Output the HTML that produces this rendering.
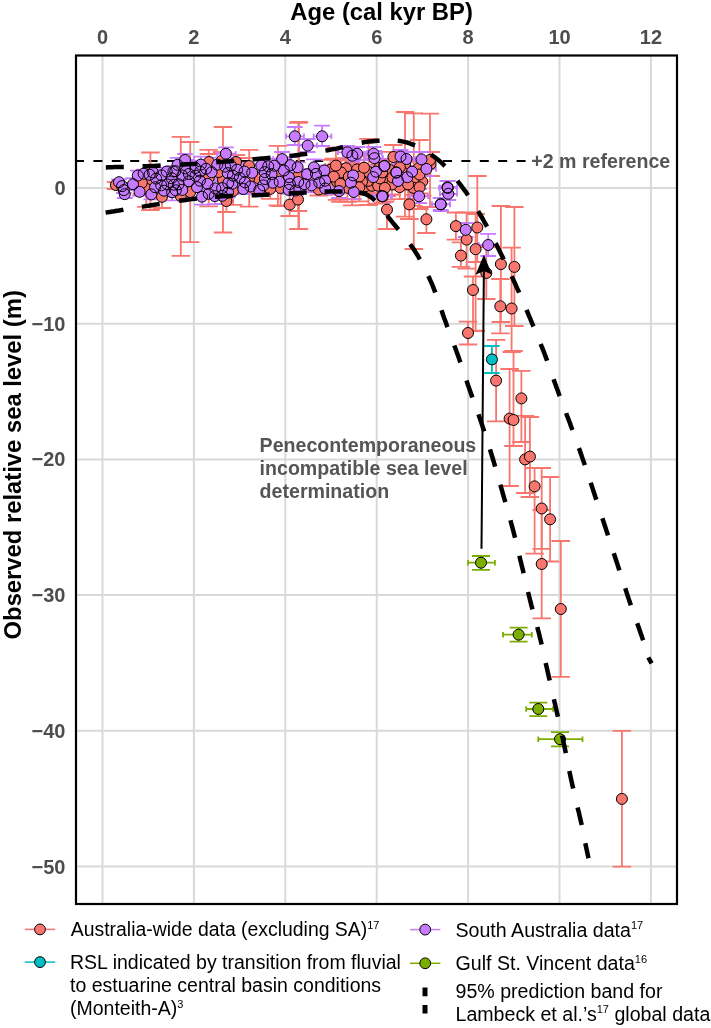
<!DOCTYPE html>
<html><head><meta charset="utf-8"><style>
html,body{margin:0;padding:0;background:#fff;}
svg{display:block;will-change:transform;}
text{font-family:"Liberation Sans",sans-serif;}
</style></head><body>
<svg width="711" height="1028" viewBox="0 0 711 1028">
<rect x="0" y="0" width="711" height="1028" fill="#fff"/>
<g stroke="#d9d9d9" stroke-width="2"><line x1="102.5" y1="56" x2="102.5" y2="904"/><line x1="193.9" y1="56" x2="193.9" y2="904"/><line x1="285.3" y1="56" x2="285.3" y2="904"/><line x1="376.7" y1="56" x2="376.7" y2="904"/><line x1="468.1" y1="56" x2="468.1" y2="904"/><line x1="559.5" y1="56" x2="559.5" y2="904"/><line x1="650.9" y1="56" x2="650.9" y2="904"/><line x1="76" y1="188.0" x2="677" y2="188.0"/><line x1="76" y1="323.7" x2="677" y2="323.7"/><line x1="76" y1="459.4" x2="677" y2="459.4"/><line x1="76" y1="595.1" x2="677" y2="595.1"/><line x1="76" y1="730.8" x2="677" y2="730.8"/><line x1="76" y1="866.5" x2="677" y2="866.5"/></g>
<line x1="75" y1="161.1" x2="526" y2="161.1" stroke="#000" stroke-width="2" stroke-dasharray="9 9.4"/>
<path d="M446.6 212.5H465.1M455.9 212.5V239.7M446.6 239.7H465.1" stroke="#F8766D" stroke-width="1.8" fill="none"/>
<path d="M468.1 176.0H486.6M477.3 176.0V262.0M468.1 262.0H486.6" stroke="#F8766D" stroke-width="1.8" fill="none"/>
<path d="M457.4 212.5H475.9M466.6 212.5V268.6M457.4 268.6H475.9" stroke="#F8766D" stroke-width="1.8" fill="none"/>
<path d="M466.4 214.0H484.9M475.6 214.0V331.0M466.4 331.0H484.9" stroke="#F8766D" stroke-width="1.8" fill="none"/>
<path d="M451.6 242.3H470.1M460.9 242.3V266.8M451.6 266.8H470.1" stroke="#F8766D" stroke-width="1.8" fill="none"/>
<path d="M491.6 206.0H510.1M500.9 206.0V322.0M491.6 322.0H510.1" stroke="#F8766D" stroke-width="1.8" fill="none"/>
<path d="M505.1 207.0H523.6M514.4 207.0V326.0M505.1 326.0H523.6" stroke="#F8766D" stroke-width="1.8" fill="none"/>
<path d="M477.1 247.0H495.6M486.3 247.0V299.0M477.1 299.0H495.6" stroke="#F8766D" stroke-width="1.8" fill="none"/>
<path d="M463.8 276.5H482.2M473.0 276.5V330.7M463.8 330.7H482.2" stroke="#F8766D" stroke-width="1.8" fill="none"/>
<path d="M491.1 279.0H509.6M500.3 279.0V333.4M491.1 333.4H509.6" stroke="#F8766D" stroke-width="1.8" fill="none"/>
<path d="M502.4 247.6H520.9M511.6 247.6V352.0M502.4 352.0H520.9" stroke="#F8766D" stroke-width="1.8" fill="none"/>
<path d="M458.8 321.7H477.2M468.0 321.7V344.5M458.8 344.5H477.2" stroke="#F8766D" stroke-width="1.8" fill="none"/>
<path d="M486.9 339.8H505.4M496.1 339.8V421.4M486.9 421.4H505.4" stroke="#F8766D" stroke-width="1.8" fill="none"/>
<path d="M512.1 370.8H530.6M521.4 370.8V442.0M512.1 442.0H530.6" stroke="#F8766D" stroke-width="1.8" fill="none"/>
<path d="M500.4 369.0H518.9M509.6 369.0V486.0M500.4 486.0H518.9" stroke="#F8766D" stroke-width="1.8" fill="none"/>
<path d="M504.2 351.0H522.8M513.5 351.0V446.0M504.2 446.0H522.8" stroke="#F8766D" stroke-width="1.8" fill="none"/>
<path d="M515.9 415.8H534.4M525.1 415.8V493.0M515.9 493.0H534.4" stroke="#F8766D" stroke-width="1.8" fill="none"/>
<path d="M520.6 417.0H539.1M529.9 417.0V497.0M520.6 497.0H539.1" stroke="#F8766D" stroke-width="1.8" fill="none"/>
<path d="M525.4 468.0H543.9M534.6 468.0V553.6M525.4 553.6H543.9" stroke="#F8766D" stroke-width="1.8" fill="none"/>
<path d="M532.5 468.0H551.0M541.7 468.0V548.8M532.5 548.8H551.0" stroke="#F8766D" stroke-width="1.8" fill="none"/>
<path d="M540.9 477.0H559.4M550.1 477.0V561.5M540.9 561.5H559.4" stroke="#F8766D" stroke-width="1.8" fill="none"/>
<path d="M532.5 510.0H551.0M541.7 510.0V618.3M532.5 618.3H551.0" stroke="#F8766D" stroke-width="1.8" fill="none"/>
<path d="M551.5 541.0H570.0M560.8 541.0V676.8M551.5 676.8H570.0" stroke="#F8766D" stroke-width="1.8" fill="none"/>
<path d="M612.6 730.8H631.1M621.9 730.8V866.7M612.6 866.7H631.1" stroke="#F8766D" stroke-width="1.8" fill="none"/>
<path d="M377.8 196.0H396.2M387.0 196.0V229.0M377.8 229.0H396.2" stroke="#F8766D" stroke-width="1.8" fill="none"/>
<path d="M400.1 190.0H418.6M409.3 190.0V219.0M400.1 219.0H418.6" stroke="#F8766D" stroke-width="1.8" fill="none"/>
<path d="M417.1 207.0H435.6M426.4 207.0V233.0M417.1 233.0H435.6" stroke="#F8766D" stroke-width="1.8" fill="none"/>
<path d="M404.6 113.4H423.1M413.8 113.4V249.0M404.6 249.0H423.1" stroke="#F8766D" stroke-width="1.8" fill="none"/>
<path d="M395.8 112.0H414.2M405.0 112.0V216.7M395.8 216.7H414.2" stroke="#F8766D" stroke-width="1.8" fill="none"/>
<path d="M420.8 113.6H439.2M430.0 113.6V207.0M420.8 207.0H439.2" stroke="#F8766D" stroke-width="1.8" fill="none"/>
<path d="M384.1 145.0H402.6M393.4 145.0V170.0M384.1 170.0H402.6" stroke="#F8766D" stroke-width="1.8" fill="none"/>
<path d="M421.4 152.0H439.9M430.6 152.0V176.0M421.4 176.0H439.9" stroke="#F8766D" stroke-width="1.8" fill="none"/>
<path d="M217.2 190.0H235.7M226.4 190.0V212.0M217.2 212.0H235.7" stroke="#F8766D" stroke-width="1.8" fill="none"/>
<path d="M280.4 192.0H298.9M289.7 192.0V216.0M280.4 216.0H298.9" stroke="#F8766D" stroke-width="1.8" fill="none"/>
<path d="M288.8 187.0H307.2M298.0 187.0V211.0M288.8 211.0H307.2" stroke="#F8766D" stroke-width="1.8" fill="none"/>
<path d="M132.6 172.0H151.1M141.8 172.0V194.0M132.6 194.0H151.1" stroke="#F8766D" stroke-width="1.8" fill="none"/>
<path d="M152.8 186.0H171.2M162.0 186.0V208.0M152.8 208.0H171.2" stroke="#F8766D" stroke-width="1.8" fill="none"/>
<path d="M106.7 182.2H125.2M115.9 182.2V189.0M106.7 189.0H125.2" stroke="#F8766D" stroke-width="1.8" fill="none"/>
<path d="M213.8 127.0H232.2M223.0 127.0V232.5M213.8 232.5H232.2" stroke="#F8766D" stroke-width="1.8" fill="none"/>
<path d="M171.6 136.8H190.1M180.8 136.8V255.9M171.6 255.9H190.1" stroke="#F8766D" stroke-width="1.8" fill="none"/>
<path d="M180.9 142.0H199.4M190.2 142.0V242.2M180.9 242.2H199.4" stroke="#F8766D" stroke-width="1.8" fill="none"/>
<path d="M141.2 152.5H159.7M150.4 152.5V210.0M141.2 210.0H159.7" stroke="#F8766D" stroke-width="1.8" fill="none"/>
<path d="M199.4 149.8H217.9M208.7 149.8V206.3M199.4 206.3H217.9" stroke="#F8766D" stroke-width="1.8" fill="none"/>
<path d="M239.9 149.8H258.4M249.2 149.8V206.7M239.9 206.7H258.4" stroke="#F8766D" stroke-width="1.8" fill="none"/>
<path d="M268.6 145.9H287.1M277.9 145.9V205.5M268.6 205.5H287.1" stroke="#F8766D" stroke-width="1.8" fill="none"/>
<path d="M289.8 122.0H308.2M299.0 122.0V229.0M289.8 229.0H308.2" stroke="#F8766D" stroke-width="1.8" fill="none"/>
<path d="M289.1 122.8H307.6M298.4 122.8V229.1M289.1 229.1H307.6" stroke="#F8766D" stroke-width="1.8" fill="none"/>
<path d="M359.2 138.8H377.8M368.5 138.8V205.0M359.2 205.0H377.8" stroke="#F8766D" stroke-width="1.8" fill="none"/>
<path d="M410.1 140.0H428.6M419.4 140.0V209.0M410.1 209.0H428.6" stroke="#F8766D" stroke-width="1.8" fill="none"/>
<path d="M398.9 170.0H417.4M408.1 170.0V199.0M398.9 199.0H417.4" stroke="#F8766D" stroke-width="1.8" fill="none"/>
<path d="M405.9 168.0H424.4M415.2 168.0V195.0M405.9 195.0H424.4" stroke="#F8766D" stroke-width="1.8" fill="none"/>
<path d="M199.8 154.0H218.2M209.0 154.0V170.0M199.8 170.0H218.2" stroke="#F8766D" stroke-width="1.8" fill="none"/>
<path d="M212.8 152.0H231.2M222.0 152.0V169.0M212.8 169.0H231.2" stroke="#F8766D" stroke-width="1.8" fill="none"/>
<path d="M226.8 155.0H245.2M236.0 155.0V169.0M226.8 169.0H245.2" stroke="#F8766D" stroke-width="1.8" fill="none"/>
<path d="M239.8 158.0H258.2M249.0 158.0V174.0M239.8 174.0H258.2" stroke="#F8766D" stroke-width="1.8" fill="none"/>
<path d="M439.5 181.0H455.2M447.4 181.0V194.0M439.5 194.0H455.2" stroke="#C77CFF" stroke-width="1.8" fill="none"/>
<path d="M440.4 187.0H456.2M448.3 187.0V200.0M440.4 200.0H456.2" stroke="#C77CFF" stroke-width="1.8" fill="none"/>
<path d="M432.8 198.0H448.6M440.7 198.0V210.0M432.8 210.0H448.6" stroke="#C77CFF" stroke-width="1.8" fill="none"/>
<path d="M457.8 223.0H473.6M465.7 223.0V237.0M457.8 237.0H473.6" stroke="#C77CFF" stroke-width="1.8" fill="none"/>
<path d="M480.3 233.9H496.1M488.2 233.9V256.0M480.3 256.0H496.1" stroke="#C77CFF" stroke-width="1.8" fill="none"/>
<path d="M111.2 179.4H126.8M119.0 179.4V185.0M111.2 185.0H126.8" stroke="#C77CFF" stroke-width="1.8" fill="none"/>
<path d="M114.2 183.0H129.9M122.1 183.0V189.0M114.2 189.0H129.9" stroke="#C77CFF" stroke-width="1.8" fill="none"/>
<path d="M116.0 187.0H131.7M123.8 187.0V193.0M116.0 193.0H131.7" stroke="#C77CFF" stroke-width="1.8" fill="none"/>
<path d="M116.9 190.4H132.6M124.7 190.4V198.0M116.9 198.0H132.6" stroke="#C77CFF" stroke-width="1.8" fill="none"/>
<path d="M218.1 147.3H233.8M225.9 147.3V160.0M218.1 160.0H233.8" stroke="#C77CFF" stroke-width="1.8" fill="none"/>
<path d="M286.9 127.0H302.7M294.8 127.0V145.0M286.9 145.0H302.7" stroke="#C77CFF" stroke-width="1.8" fill="none"/>
<path d="M299.8 139.0H315.6M307.7 139.0V152.0M299.8 152.0H315.6" stroke="#C77CFF" stroke-width="1.8" fill="none"/>
<path d="M314.2 125.7H330.0M322.1 125.7V146.0M314.2 146.0H330.0" stroke="#C77CFF" stroke-width="1.8" fill="none"/>
<path d="M274.2 152.0H290.0M282.1 152.0V166.0M274.2 166.0H290.0" stroke="#C77CFF" stroke-width="1.8" fill="none"/>
<path d="M177.2 154.0H192.8M185.0 154.0V166.0M177.2 166.0H192.8" stroke="#C77CFF" stroke-width="1.8" fill="none"/>
<path d="M339.5 146.0H355.2M347.4 146.0V159.0M339.5 159.0H355.2" stroke="#C77CFF" stroke-width="1.8" fill="none"/>
<path d="M344.5 149.0H360.2M352.4 149.0V162.0M344.5 162.0H360.2" stroke="#C77CFF" stroke-width="1.8" fill="none"/>
<path d="M349.3 147.0H365.1M357.2 147.0V160.0M349.3 160.0H365.1" stroke="#C77CFF" stroke-width="1.8" fill="none"/>
<path d="M365.6 147.0H381.4M373.5 147.0V160.0M365.6 160.0H381.4" stroke="#C77CFF" stroke-width="1.8" fill="none"/>
<path d="M366.5 151.0H382.2M374.4 151.0V165.0M366.5 165.0H382.2" stroke="#C77CFF" stroke-width="1.8" fill="none"/>
<path d="M392.6 150.0H408.4M400.5 150.0V163.0M392.6 163.0H408.4" stroke="#C77CFF" stroke-width="1.8" fill="none"/>
<path d="M398.6 152.0H414.4M406.5 152.0V166.0M398.6 166.0H414.4" stroke="#C77CFF" stroke-width="1.8" fill="none"/>
<path d="M376.6 159.0H392.4M384.5 159.0V172.0M376.6 172.0H392.4" stroke="#C77CFF" stroke-width="1.8" fill="none"/>
<path d="M368.1 165.0H383.9M376.0 165.0V178.0M368.1 178.0H383.9" stroke="#C77CFF" stroke-width="1.8" fill="none"/>
<path d="M388.4 166.0H404.2M396.3 166.0V179.0M388.4 179.0H404.2" stroke="#C77CFF" stroke-width="1.8" fill="none"/>
<path d="M390.1 174.0H405.9M398.0 174.0V188.0M390.1 188.0H405.9" stroke="#C77CFF" stroke-width="1.8" fill="none"/>
<path d="M342.9 176.0H358.7M350.8 176.0V189.0M342.9 189.0H358.7" stroke="#C77CFF" stroke-width="1.8" fill="none"/>
<path d="M345.9 185.0H361.7M353.8 185.0V199.0M345.9 199.0H361.7" stroke="#C77CFF" stroke-width="1.8" fill="none"/>
<path d="M331.1 184.0H346.9M339.0 184.0V198.0M331.1 198.0H346.9" stroke="#C77CFF" stroke-width="1.8" fill="none"/>
<path d="M374.1 189.0H389.9M382.0 189.0V203.0M374.1 203.0H389.9" stroke="#C77CFF" stroke-width="1.8" fill="none"/>
<path d="M413.6 152.0H429.4M421.5 152.0V166.0M413.6 166.0H429.4" stroke="#C77CFF" stroke-width="1.8" fill="none"/>
<path d="M418.5 162.0H434.2M426.4 162.0V176.0M418.5 176.0H434.2" stroke="#C77CFF" stroke-width="1.8" fill="none"/>
<path d="M376.3 159.0H392.1M384.2 159.0V173.0M376.3 173.0H392.1" stroke="#C77CFF" stroke-width="1.8" fill="none"/>
<path d="M388.3 166.0H404.1M396.2 166.0V179.0M388.3 179.0H404.1" stroke="#C77CFF" stroke-width="1.8" fill="none"/>
<path d="M374.9 189.0H390.7M382.8 189.0V203.0M374.9 203.0H390.7" stroke="#C77CFF" stroke-width="1.8" fill="none"/>
<path d="M411.2 189.0H427.0M419.1 189.0V203.0M411.2 203.0H427.0" stroke="#C77CFF" stroke-width="1.8" fill="none"/>
<path d="M432.9 198.0H448.7M440.8 198.0V211.0M432.9 211.0H448.7" stroke="#C77CFF" stroke-width="1.8" fill="none"/>
<path d="M439.9 181.0H455.7M447.8 181.0V194.0M439.9 194.0H455.7" stroke="#C77CFF" stroke-width="1.8" fill="none"/>
<path d="M130.0 170.6H145.7M137.8 170.6V180.6M130.0 180.6H145.7" stroke="#C77CFF" stroke-width="1.8" fill="none"/>
<path d="M135.9 169.7H151.6M143.7 169.7V177.7M135.9 177.7H151.6" stroke="#C77CFF" stroke-width="1.8" fill="none"/>
<path d="M125.2 178.2H140.9M133.0 178.2V190.2M125.2 190.2H140.9" stroke="#C77CFF" stroke-width="1.8" fill="none"/>
<path d="M131.8 187.8H147.5M139.6 187.8V195.8M131.8 195.8H147.5" stroke="#C77CFF" stroke-width="1.8" fill="none"/>
<path d="M137.0 170.8H155.5M146.3 170.8V206.8M137.0 206.8H155.5" stroke="#F8766D" stroke-width="1.8" fill="none"/>
<path d="M141.8 167.8H157.5M149.6 167.8V181.8M141.8 181.8H157.5" stroke="#C77CFF" stroke-width="1.8" fill="none"/>
<path d="M158.9 167.6H174.6M166.7 167.6V175.6M158.9 175.6H174.6" stroke="#C77CFF" stroke-width="1.8" fill="none"/>
<path d="M153.7 169.4H169.4M161.5 169.4V181.4M153.7 181.4H169.4" stroke="#C77CFF" stroke-width="1.8" fill="none"/>
<path d="M145.1 165.5H160.8M152.9 165.5V179.5M145.1 179.5H160.8" stroke="#C77CFF" stroke-width="1.8" fill="none"/>
<path d="M153.4 181.3H169.1M161.2 181.3V189.3M153.4 189.3H169.1" stroke="#C77CFF" stroke-width="1.8" fill="none"/>
<path d="M164.2 184.3H179.9M172.1 184.3V200.3M164.2 200.3H179.9" stroke="#C77CFF" stroke-width="1.8" fill="none"/>
<path d="M163.7 171.2H179.4M171.6 171.2V185.2M163.7 185.2H179.4" stroke="#C77CFF" stroke-width="1.8" fill="none"/>
<path d="M159.4 178.4H175.1M167.3 178.4V190.4M159.4 190.4H175.1" stroke="#C77CFF" stroke-width="1.8" fill="none"/>
<path d="M143.5 189.4H159.2M151.3 189.4V199.4M143.5 199.4H159.2" stroke="#C77CFF" stroke-width="1.8" fill="none"/>
<path d="M165.9 180.7H181.6M173.8 180.7V188.7M165.9 188.7H181.6" stroke="#C77CFF" stroke-width="1.8" fill="none"/>
<path d="M147.3 182.2H163.0M155.1 182.2V192.2M147.3 192.2H163.0" stroke="#C77CFF" stroke-width="1.8" fill="none"/>
<path d="M148.2 174.6H163.9M156.1 174.6V182.6M148.2 182.6H163.9" stroke="#C77CFF" stroke-width="1.8" fill="none"/>
<path d="M165.6 166.5H181.3M173.4 166.5V176.5M165.6 176.5H181.3" stroke="#C77CFF" stroke-width="1.8" fill="none"/>
<path d="M156.2 184.7H171.9M164.1 184.7V196.7M156.2 196.7H171.9" stroke="#C77CFF" stroke-width="1.8" fill="none"/>
<path d="M181.0 167.0H196.7M188.9 167.0V181.0M181.0 181.0H196.7" stroke="#C77CFF" stroke-width="1.8" fill="none"/>
<path d="M200.9 188.8H216.6M208.7 188.8V198.8M200.9 198.8H216.6" stroke="#C77CFF" stroke-width="1.8" fill="none"/>
<path d="M192.3 164.6H208.0M200.1 164.6V178.6M192.3 178.6H208.0" stroke="#C77CFF" stroke-width="1.8" fill="none"/>
<path d="M199.7 178.9H215.4M207.6 178.9V188.9M199.7 188.9H215.4" stroke="#C77CFF" stroke-width="1.8" fill="none"/>
<path d="M209.3 166.0H227.8M218.6 166.0V178.0M209.3 178.0H227.8" stroke="#F8766D" stroke-width="1.8" fill="none"/>
<path d="M209.4 157.7H225.1M217.3 157.7V171.7M209.4 171.7H225.1" stroke="#C77CFF" stroke-width="1.8" fill="none"/>
<path d="M214.4 187.8H230.1M222.2 187.8V203.8M214.4 203.8H230.1" stroke="#C77CFF" stroke-width="1.8" fill="none"/>
<path d="M192.1 175.7H207.8M199.9 175.7V185.7M192.1 185.7H207.8" stroke="#C77CFF" stroke-width="1.8" fill="none"/>
<path d="M181.0 173.2H196.7M188.9 173.2V189.2M181.0 189.2H196.7" stroke="#C77CFF" stroke-width="1.8" fill="none"/>
<path d="M214.3 181.1H230.0M222.1 181.1V195.1M214.3 195.1H230.0" stroke="#C77CFF" stroke-width="1.8" fill="none"/>
<path d="M187.6 169.8H203.3M195.4 169.8V181.8M187.6 181.8H203.3" stroke="#C77CFF" stroke-width="1.8" fill="none"/>
<path d="M187.4 161.0H203.1M195.3 161.0V175.0M187.4 175.0H203.1" stroke="#C77CFF" stroke-width="1.8" fill="none"/>
<path d="M219.8 166.1H235.5M227.7 166.1V180.1M219.8 180.1H235.5" stroke="#C77CFF" stroke-width="1.8" fill="none"/>
<path d="M220.3 188.6H236.0M228.1 188.6V196.6M220.3 196.6H236.0" stroke="#C77CFF" stroke-width="1.8" fill="none"/>
<path d="M207.5 180.4H223.2M215.3 180.4V196.4M207.5 196.4H223.2" stroke="#C77CFF" stroke-width="1.8" fill="none"/>
<path d="M169.7 157.8H185.4M177.5 157.8V171.8M169.7 171.8H185.4" stroke="#C77CFF" stroke-width="1.8" fill="none"/>
<path d="M174.5 170.5H190.2M182.4 170.5V180.5M174.5 180.5H190.2" stroke="#C77CFF" stroke-width="1.8" fill="none"/>
<path d="M167.9 185.3H183.6M175.8 185.3V195.3M167.9 195.3H183.6" stroke="#C77CFF" stroke-width="1.8" fill="none"/>
<path d="M203.8 167.2H219.5M211.6 167.2V177.2M203.8 177.2H219.5" stroke="#C77CFF" stroke-width="1.8" fill="none"/>
<path d="M177.4 162.4H193.1M185.2 162.4V174.4M177.4 174.4H193.1" stroke="#C77CFF" stroke-width="1.8" fill="none"/>
<path d="M217.3 162.6H233.0M225.1 162.6V170.6M217.3 170.6H233.0" stroke="#C77CFF" stroke-width="1.8" fill="none"/>
<path d="M170.7 177.3H186.4M178.5 177.3V191.3M170.7 191.3H186.4" stroke="#C77CFF" stroke-width="1.8" fill="none"/>
<path d="M198.2 163.8H213.9M206.1 163.8V173.8M198.2 173.8H213.9" stroke="#C77CFF" stroke-width="1.8" fill="none"/>
<path d="M174.4 185.9H190.1M182.3 185.9V193.9M174.4 193.9H190.1" stroke="#C77CFF" stroke-width="1.8" fill="none"/>
<path d="M192.9 156.6H208.6M200.8 156.6V172.6M192.9 172.6H208.6" stroke="#C77CFF" stroke-width="1.8" fill="none"/>
<path d="M220.3 178.1H236.0M228.2 178.1V188.1M220.3 188.1H236.0" stroke="#C77CFF" stroke-width="1.8" fill="none"/>
<path d="M194.1 188.7H209.8M202.0 188.7V204.7M194.1 204.7H209.8" stroke="#C77CFF" stroke-width="1.8" fill="none"/>
<path d="M206.9 188.1H222.6M214.8 188.1V204.1M206.9 204.1H222.6" stroke="#C77CFF" stroke-width="1.8" fill="none"/>
<path d="M167.5 166.2H183.2M175.3 166.2V176.2M167.5 176.2H183.2" stroke="#C77CFF" stroke-width="1.8" fill="none"/>
<path d="M189.2 183.2H204.9M197.0 183.2V191.2M189.2 191.2H204.9" stroke="#C77CFF" stroke-width="1.8" fill="none"/>
<path d="M231.9 169.8H247.6M239.8 169.8V185.8M231.9 185.8H247.6" stroke="#C77CFF" stroke-width="1.8" fill="none"/>
<path d="M257.0 175.0H272.7M264.9 175.0V183.0M257.0 183.0H272.7" stroke="#C77CFF" stroke-width="1.8" fill="none"/>
<path d="M282.6 157.2H298.3M290.4 157.2V173.2M282.6 173.2H298.3" stroke="#C77CFF" stroke-width="1.8" fill="none"/>
<path d="M281.0 169.2H296.7M288.9 169.2V185.2M281.0 185.2H296.7" stroke="#C77CFF" stroke-width="1.8" fill="none"/>
<path d="M251.5 186.0H267.2M259.3 186.0V194.0M251.5 194.0H267.2" stroke="#C77CFF" stroke-width="1.8" fill="none"/>
<path d="M266.7 158.7H282.4M274.5 158.7V172.7M266.7 172.7H282.4" stroke="#C77CFF" stroke-width="1.8" fill="none"/>
<path d="M264.8 174.7H280.5M272.7 174.7V190.7M264.8 190.7H280.5" stroke="#C77CFF" stroke-width="1.8" fill="none"/>
<path d="M224.5 177.7H240.2M232.4 177.7V189.7M224.5 189.7H240.2" stroke="#C77CFF" stroke-width="1.8" fill="none"/>
<path d="M276.1 166.5H291.8M283.9 166.5V174.5M276.1 174.5H291.8" stroke="#C77CFF" stroke-width="1.8" fill="none"/>
<path d="M242.7 179.5H258.4M250.5 179.5V193.5M242.7 193.5H258.4" stroke="#C77CFF" stroke-width="1.8" fill="none"/>
<path d="M249.0 164.1H267.5M258.3 164.1V192.1M249.0 192.1H267.5" stroke="#F8766D" stroke-width="1.8" fill="none"/>
<path d="M290.4 177.0H306.1M298.2 177.0V187.0M290.4 187.0H306.1" stroke="#C77CFF" stroke-width="1.8" fill="none"/>
<path d="M244.3 164.8H260.0M252.2 164.8V180.8M244.3 180.8H260.0" stroke="#C77CFF" stroke-width="1.8" fill="none"/>
<path d="M271.3 170.0H289.8M280.6 170.0V206.0M271.3 206.0H289.8" stroke="#F8766D" stroke-width="1.8" fill="none"/>
<path d="M260.3 160.3H276.0M268.2 160.3V172.3M260.3 172.3H276.0" stroke="#C77CFF" stroke-width="1.8" fill="none"/>
<path d="M235.4 184.0H251.1M243.3 184.0V194.0M235.4 194.0H251.1" stroke="#C77CFF" stroke-width="1.8" fill="none"/>
<path d="M237.0 176.3H252.7M244.9 176.3V188.3M237.0 188.3H252.7" stroke="#C77CFF" stroke-width="1.8" fill="none"/>
<path d="M229.2 162.7H244.9M237.1 162.7V176.7M229.2 176.7H244.9" stroke="#C77CFF" stroke-width="1.8" fill="none"/>
<path d="M261.0 178.9H279.5M270.3 178.9V198.9M261.0 198.9H279.5" stroke="#F8766D" stroke-width="1.8" fill="none"/>
<path d="M253.4 159.4H269.1M261.3 159.4V171.4M253.4 171.4H269.1" stroke="#C77CFF" stroke-width="1.8" fill="none"/>
<path d="M287.8 185.5H303.5M295.6 185.5V195.5M287.8 195.5H303.5" stroke="#C77CFF" stroke-width="1.8" fill="none"/>
<path d="M289.8 162.3H305.5M297.6 162.3V172.3M289.8 172.3H305.5" stroke="#C77CFF" stroke-width="1.8" fill="none"/>
<path d="M282.0 179.0H297.7M289.9 179.0V189.0M282.0 189.0H297.7" stroke="#C77CFF" stroke-width="1.8" fill="none"/>
<path d="M222.9 157.4H238.6M230.8 157.4V173.4M222.9 173.4H238.6" stroke="#C77CFF" stroke-width="1.8" fill="none"/>
<path d="M236.6 164.6H252.3M244.5 164.6V178.6M236.6 178.6H252.3" stroke="#C77CFF" stroke-width="1.8" fill="none"/>
<path d="M223.9 176.9H242.4M233.1 176.9V204.9M223.9 204.9H242.4" stroke="#F8766D" stroke-width="1.8" fill="none"/>
<path d="M271.8 176.8H287.5M279.7 176.8V186.8M271.8 186.8H287.5" stroke="#C77CFF" stroke-width="1.8" fill="none"/>
<path d="M256.8 168.1H272.5M264.7 168.1V176.1M256.8 176.1H272.5" stroke="#C77CFF" stroke-width="1.8" fill="none"/>
<path d="M255.4 178.4H271.1M263.3 178.4V192.4M255.4 192.4H271.1" stroke="#C77CFF" stroke-width="1.8" fill="none"/>
<path d="M280.8 185.9H296.5M288.7 185.9V193.9M280.8 193.9H296.5" stroke="#C77CFF" stroke-width="1.8" fill="none"/>
<path d="M263.8 169.1H279.5M271.6 169.1V179.1M263.8 179.1H279.5" stroke="#C77CFF" stroke-width="1.8" fill="none"/>
<path d="M225.1 169.7H240.8M233.0 169.7V181.7M225.1 181.7H240.8" stroke="#C77CFF" stroke-width="1.8" fill="none"/>
<path d="M321.1 159.8H339.6M330.3 159.8V179.8M321.1 179.8H339.6" stroke="#F8766D" stroke-width="1.8" fill="none"/>
<path d="M303.7 178.4H319.4M311.5 178.4V192.4M303.7 192.4H319.4" stroke="#C77CFF" stroke-width="1.8" fill="none"/>
<path d="M308.1 167.9H323.8M316.0 167.9V179.9M308.1 179.9H323.8" stroke="#C77CFF" stroke-width="1.8" fill="none"/>
<path d="M324.5 158.6H343.0M333.8 158.6V194.6M324.5 194.6H343.0" stroke="#F8766D" stroke-width="1.8" fill="none"/>
<path d="M317.3 175.7H333.0M325.1 175.7V185.7M317.3 185.7H333.0" stroke="#C77CFF" stroke-width="1.8" fill="none"/>
<path d="M299.2 169.2H314.9M307.1 169.2V179.2M299.2 179.2H314.9" stroke="#C77CFF" stroke-width="1.8" fill="none"/>
<path d="M326.6 147.6H345.1M335.9 147.6V183.6M326.6 183.6H345.1" stroke="#F8766D" stroke-width="1.8" fill="none"/>
<path d="M330.7 165.0H349.2M340.0 165.0V185.0M330.7 185.0H349.2" stroke="#F8766D" stroke-width="1.8" fill="none"/>
<path d="M316.5 165.5H332.2M324.4 165.5V175.5M316.5 175.5H332.2" stroke="#C77CFF" stroke-width="1.8" fill="none"/>
<path d="M317.3 182.5H333.0M325.2 182.5V194.5M317.3 194.5H333.0" stroke="#C77CFF" stroke-width="1.8" fill="none"/>
<path d="M327.8 163.8H346.3M337.0 163.8V199.8M327.8 199.8H346.3" stroke="#F8766D" stroke-width="1.8" fill="none"/>
<path d="M296.6 177.1H312.3M304.5 177.1V191.1M296.6 191.1H312.3" stroke="#C77CFF" stroke-width="1.8" fill="none"/>
<path d="M306.0 159.3H321.7M313.9 159.3V175.3M306.0 175.3H321.7" stroke="#C77CFF" stroke-width="1.8" fill="none"/>
<path d="M311.5 177.6H327.2M319.3 177.6V187.6M311.5 187.6H327.2" stroke="#C77CFF" stroke-width="1.8" fill="none"/>
<path d="M309.5 183.5H328.0M318.7 183.5V195.5M309.5 195.5H328.0" stroke="#F8766D" stroke-width="1.8" fill="none"/>
<path d="M382.7 174.5H401.2M391.9 174.5V194.5M382.7 194.5H401.2" stroke="#F8766D" stroke-width="1.8" fill="none"/>
<path d="M336.9 158.2H355.4M346.1 158.2V178.2M336.9 178.2H355.4" stroke="#F8766D" stroke-width="1.8" fill="none"/>
<path d="M331.1 165.9H349.6M340.4 165.9V201.9M331.1 201.9H349.6" stroke="#F8766D" stroke-width="1.8" fill="none"/>
<path d="M370.6 164.4H389.1M379.9 164.4V192.4M370.6 192.4H389.1" stroke="#F8766D" stroke-width="1.8" fill="none"/>
<path d="M345.3 168.4H361.0M353.1 168.4V182.4M345.3 182.4H361.0" stroke="#C77CFF" stroke-width="1.8" fill="none"/>
<path d="M358.9 166.8H377.4M368.2 166.8V194.8M358.9 194.8H377.4" stroke="#F8766D" stroke-width="1.8" fill="none"/>
<path d="M378.8 169.8H397.3M388.0 169.8V181.8M378.8 181.8H397.3" stroke="#F8766D" stroke-width="1.8" fill="none"/>
<path d="M404.2 166.7H419.9M412.1 166.7V176.7M404.2 176.7H419.9" stroke="#C77CFF" stroke-width="1.8" fill="none"/>
<path d="M350.1 173.3H368.6M359.3 173.3V201.3M350.1 201.3H368.6" stroke="#F8766D" stroke-width="1.8" fill="none"/>
<path d="M350.0 164.6H368.5M359.3 164.6V188.6M350.0 188.6H368.5" stroke="#F8766D" stroke-width="1.8" fill="none"/>
<path d="M376.8 163.6H395.3M386.0 163.6V199.6M376.8 199.6H395.3" stroke="#F8766D" stroke-width="1.8" fill="none"/>
<path d="M390.4 175.1H408.9M399.7 175.1V199.1M390.4 199.1H408.9" stroke="#F8766D" stroke-width="1.8" fill="none"/>
<path d="M338.2 173.8H356.7M347.5 173.8V201.8M338.2 201.8H356.7" stroke="#F8766D" stroke-width="1.8" fill="none"/>
<path d="M347.9 163.4H366.4M357.1 163.4V175.4M347.9 175.4H366.4" stroke="#F8766D" stroke-width="1.8" fill="none"/>
<path d="M331.7 160.4H350.2M341.0 160.4V184.4M331.7 184.4H350.2" stroke="#F8766D" stroke-width="1.8" fill="none"/>
<path d="M399.4 172.2H415.1M407.3 172.2V182.2M399.4 182.2H415.1" stroke="#C77CFF" stroke-width="1.8" fill="none"/>
<path d="M413.0 167.6H431.5M422.2 167.6V195.6M413.0 195.6H431.5" stroke="#F8766D" stroke-width="1.8" fill="none"/>
<path d="M380.4 151.9H398.9M389.7 151.9V187.9M380.4 187.9H398.9" stroke="#F8766D" stroke-width="1.8" fill="none"/>
<path d="M368.8 167.7H387.3M378.1 167.7V203.7M368.8 203.7H387.3" stroke="#F8766D" stroke-width="1.8" fill="none"/>
<path d="M390.6 157.3H409.1M399.8 157.3V177.3M390.6 177.3H409.1" stroke="#F8766D" stroke-width="1.8" fill="none"/>
<path d="M394.1 160.6H412.6M403.3 160.6V184.6M394.1 184.6H412.6" stroke="#F8766D" stroke-width="1.8" fill="none"/>
<path d="M334.0 170.0H352.5M343.2 170.0V186.0M334.0 186.0H352.5" stroke="#F8766D" stroke-width="1.8" fill="none"/>
<path d="M372.9 160.4H391.4M382.2 160.4V184.4M372.9 184.4H391.4" stroke="#F8766D" stroke-width="1.8" fill="none"/>
<path d="M362.7 177.8H381.2M371.9 177.8V193.8M362.7 193.8H381.2" stroke="#F8766D" stroke-width="1.8" fill="none"/>
<path d="M409.3 162.4H427.8M418.6 162.4V174.4M409.3 174.4H427.8" stroke="#F8766D" stroke-width="1.8" fill="none"/>
<path d="M354.8 155.7H373.3M364.0 155.7V179.7M354.8 179.7H373.3" stroke="#F8766D" stroke-width="1.8" fill="none"/>
<path d="M410.3 181.3H428.8M419.6 181.3V193.3M410.3 193.3H428.8" stroke="#F8766D" stroke-width="1.8" fill="none"/>
<path d="M404.0 169.8H422.5M413.3 169.8V205.8M404.0 205.8H422.5" stroke="#F8766D" stroke-width="1.8" fill="none"/>
<path d="M356.0 180.2H374.5M365.2 180.2V192.2M356.0 192.2H374.5" stroke="#F8766D" stroke-width="1.8" fill="none"/>
<path d="M365.3 171.1H381.0M373.2 171.1V183.1M365.3 183.1H381.0" stroke="#C77CFF" stroke-width="1.8" fill="none"/>
<path d="M375.6 173.9H394.1M384.9 173.9V201.9M375.6 201.9H394.1" stroke="#F8766D" stroke-width="1.8" fill="none"/>
<path d="M339.6 164.9H358.1M348.8 164.9V188.9M339.6 188.9H358.1" stroke="#F8766D" stroke-width="1.8" fill="none"/>
<path d="M383.2 167.4H401.7M392.5 167.4V187.4M383.2 187.4H401.7" stroke="#F8766D" stroke-width="1.8" fill="none"/>
<path d="M346.7 172.6H365.2M355.9 172.6V192.6M346.7 192.6H365.2" stroke="#F8766D" stroke-width="1.8" fill="none"/>
<path d="M342.9 169.4H361.4M352.1 169.4V205.4M342.9 205.4H361.4" stroke="#F8766D" stroke-width="1.8" fill="none"/>
<path d="M352.8 175.6H371.3M362.0 175.6V187.6M352.8 187.6H371.3" stroke="#F8766D" stroke-width="1.8" fill="none"/>
<path d="M369.8 162.0H388.3M379.1 162.0V174.0M369.8 174.0H388.3" stroke="#F8766D" stroke-width="1.8" fill="none"/>
<path d="M392.2 169.3H410.7M401.5 169.3V185.3M392.2 185.3H410.7" stroke="#F8766D" stroke-width="1.8" fill="none"/>
<path d="M484.1 346.0H499.6M491.9 346.0V373.0M484.1 373.0H499.6" stroke="#00BFC4" stroke-width="1.8" fill="none"/>
<path d="M472.0 556.0H490.0M481.0 556.0V569.8M472.0 569.8H490.0" stroke="#7CAE00" stroke-width="1.8" fill="none"/>
<path d="M509.6 627.6H527.6M518.6 627.6V641.6M509.6 641.6H527.6" stroke="#7CAE00" stroke-width="1.8" fill="none"/>
<path d="M529.3 702.7H547.3M538.3 702.7V716.2M529.3 716.2H547.3" stroke="#7CAE00" stroke-width="1.8" fill="none"/>
<path d="M551.0 732.2H569.0M560.0 732.2V746.3M551.0 746.3H569.0" stroke="#7CAE00" stroke-width="1.8" fill="none"/>
<path d="M440.0 184.6V190.1M440.0 187.3H457.0M457.0 184.6V190.1" stroke="#C77CFF" stroke-width="1.8" fill="none"/>
<path d="M440.0 191.1V196.6M440.0 193.8H457.0M457.0 191.1V196.6" stroke="#C77CFF" stroke-width="1.8" fill="none"/>
<path d="M432.0 201.4V206.9M432.0 204.2H450.0M450.0 201.4V206.9" stroke="#C77CFF" stroke-width="1.8" fill="none"/>
<path d="M457.0 227.1V232.6M457.0 229.8H474.0M474.0 227.1V232.6" stroke="#C77CFF" stroke-width="1.8" fill="none"/>
<path d="M479.0 242.2V247.8M479.0 245.0H497.0M497.0 242.2V247.8" stroke="#C77CFF" stroke-width="1.8" fill="none"/>
<path d="M217.0 150.9V156.4M217.0 153.7H235.7M235.7 150.9V156.4" stroke="#C77CFF" stroke-width="1.8" fill="none"/>
<path d="M286.0 133.6V139.1M286.0 136.3H304.0M304.0 133.6V139.1" stroke="#C77CFF" stroke-width="1.8" fill="none"/>
<path d="M299.0 142.8V148.3M299.0 145.6H317.0M317.0 142.8V148.3" stroke="#C77CFF" stroke-width="1.8" fill="none"/>
<path d="M313.6 133.6V139.1M313.6 136.3H331.4M331.4 133.6V139.1" stroke="#C77CFF" stroke-width="1.8" fill="none"/>
<path d="M273.0 156.3V161.8M273.0 159.1H291.0M291.0 156.3V161.8" stroke="#C77CFF" stroke-width="1.8" fill="none"/>
<path d="M176.0 157.2V162.8M176.0 160.0H194.0M194.0 157.2V162.8" stroke="#C77CFF" stroke-width="1.8" fill="none"/>
<path d="M338.0 149.6V155.1M338.0 152.3H356.0M356.0 149.6V155.1" stroke="#C77CFF" stroke-width="1.8" fill="none"/>
<path d="M343.0 152.9V158.4M343.0 155.7H361.0M361.0 152.9V158.4" stroke="#C77CFF" stroke-width="1.8" fill="none"/>
<path d="M348.0 150.9V156.4M348.0 153.7H366.0M366.0 150.9V156.4" stroke="#C77CFF" stroke-width="1.8" fill="none"/>
<path d="M364.0 150.9V156.4M364.0 153.7H382.0M382.0 150.9V156.4" stroke="#C77CFF" stroke-width="1.8" fill="none"/>
<path d="M365.0 155.4V160.9M365.0 158.2H383.0M383.0 155.4V160.9" stroke="#C77CFF" stroke-width="1.8" fill="none"/>
<path d="M391.0 153.8V159.2M391.0 156.5H409.0M409.0 153.8V159.2" stroke="#C77CFF" stroke-width="1.8" fill="none"/>
<path d="M397.0 156.2V161.8M397.0 159.0H415.0M415.0 156.2V161.8" stroke="#C77CFF" stroke-width="1.8" fill="none"/>
<path d="M375.0 163.1V168.6M375.0 165.8H393.0M393.0 163.1V168.6" stroke="#C77CFF" stroke-width="1.8" fill="none"/>
<path d="M367.0 168.9V174.4M367.0 171.7H385.0M385.0 168.9V174.4" stroke="#C77CFF" stroke-width="1.8" fill="none"/>
<path d="M387.0 169.8V175.3M387.0 172.6H405.0M405.0 169.8V175.3" stroke="#C77CFF" stroke-width="1.8" fill="none"/>
<path d="M389.0 178.2V183.8M389.0 181.0H407.0M407.0 178.2V183.8" stroke="#C77CFF" stroke-width="1.8" fill="none"/>
<path d="M341.0 179.9V185.4M341.0 182.7H360.0M360.0 179.9V185.4" stroke="#C77CFF" stroke-width="1.8" fill="none"/>
<path d="M344.0 189.2V194.8M344.0 192.0H363.0M363.0 189.2V194.8" stroke="#C77CFF" stroke-width="1.8" fill="none"/>
<path d="M330.0 188.3V193.8M330.0 191.1H348.0M348.0 188.3V193.8" stroke="#C77CFF" stroke-width="1.8" fill="none"/>
<path d="M373.0 193.4V198.9M373.0 196.2H391.0M391.0 193.4V198.9" stroke="#C77CFF" stroke-width="1.8" fill="none"/>
<path d="M412.0 156.7V162.2M412.0 159.4H431.0M431.0 156.7V162.2" stroke="#C77CFF" stroke-width="1.8" fill="none"/>
<path d="M417.0 166.2V171.7M417.0 168.9H436.0M436.0 166.2V171.7" stroke="#C77CFF" stroke-width="1.8" fill="none"/>
<path d="M375.0 163.3V168.8M375.0 166.1H393.0M393.0 163.3V168.8" stroke="#C77CFF" stroke-width="1.8" fill="none"/>
<path d="M387.0 169.7V175.2M387.0 172.4H405.0M405.0 169.7V175.2" stroke="#C77CFF" stroke-width="1.8" fill="none"/>
<path d="M374.0 193.6V199.1M374.0 196.3H392.0M392.0 193.6V199.1" stroke="#C77CFF" stroke-width="1.8" fill="none"/>
<path d="M410.0 193.6V199.1M410.0 196.3H428.0M428.0 193.6V199.1" stroke="#C77CFF" stroke-width="1.8" fill="none"/>
<path d="M432.0 201.7V207.2M432.0 204.4H450.0M450.0 201.7V207.2" stroke="#C77CFF" stroke-width="1.8" fill="none"/>
<path d="M439.0 185.2V190.7M439.0 187.9H457.0M457.0 185.2V190.7" stroke="#C77CFF" stroke-width="1.8" fill="none"/>
<path d="M123.6 181.4V186.9M123.6 184.2H142.5M142.5 181.4V186.9" stroke="#C77CFF" stroke-width="1.8" fill="none"/>
<path d="M135.9 186.0V191.5M135.9 188.8H156.7M156.7 186.0V191.5" stroke="#F8766D" stroke-width="1.8" fill="none"/>
<path d="M139.9 172.1V177.6M139.9 174.8H159.3M159.3 172.1V177.6" stroke="#C77CFF" stroke-width="1.8" fill="none"/>
<path d="M147.3 182.5V188.0M147.3 185.3H175.1M175.1 182.5V188.0" stroke="#C77CFF" stroke-width="1.8" fill="none"/>
<path d="M157.2 181.7V187.2M157.2 184.4H177.4M177.4 181.7V187.2" stroke="#C77CFF" stroke-width="1.8" fill="none"/>
<path d="M139.2 191.6V197.1M139.2 194.4H163.5M163.5 191.6V197.1" stroke="#C77CFF" stroke-width="1.8" fill="none"/>
<path d="M147.6 184.5V190.0M147.6 187.2H162.6M162.6 184.5V190.0" stroke="#C77CFF" stroke-width="1.8" fill="none"/>
<path d="M142.2 175.9V181.4M142.2 178.6H169.9M169.9 175.9V181.4" stroke="#C77CFF" stroke-width="1.8" fill="none"/>
<path d="M195.1 181.2V186.7M195.1 183.9H220.0M220.0 181.2V186.7" stroke="#C77CFF" stroke-width="1.8" fill="none"/>
<path d="M210.0 193.1V198.6M210.0 195.8H234.4M234.4 193.1V198.6" stroke="#C77CFF" stroke-width="1.8" fill="none"/>
<path d="M214.6 185.3V190.8M214.6 188.1H229.6M229.6 185.3V190.8" stroke="#C77CFF" stroke-width="1.8" fill="none"/>
<path d="M166.1 187.5V193.0M166.1 190.3H185.4M185.4 187.5V193.0" stroke="#C77CFF" stroke-width="1.8" fill="none"/>
<path d="M176.1 165.7V171.2M176.1 168.4H194.3M194.3 165.7V171.2" stroke="#C77CFF" stroke-width="1.8" fill="none"/>
<path d="M165.7 181.5V187.0M165.7 184.3H191.3M191.3 181.5V187.0" stroke="#C77CFF" stroke-width="1.8" fill="none"/>
<path d="M174.8 187.2V192.7M174.8 189.9H189.8M189.8 187.2V192.7" stroke="#C77CFF" stroke-width="1.8" fill="none"/>
<path d="M192.2 161.9V167.4M192.2 164.6H209.4M209.4 161.9V167.4" stroke="#C77CFF" stroke-width="1.8" fill="none"/>
<path d="M218.4 180.4V185.9M218.4 183.1H238.0M238.0 180.4V185.9" stroke="#C77CFF" stroke-width="1.8" fill="none"/>
<path d="M230.6 175.1V180.6M230.6 177.8H248.9M248.9 175.1V180.6" stroke="#C77CFF" stroke-width="1.8" fill="none"/>
<path d="M254.4 176.3V181.8M254.4 179.0H275.4M275.4 176.3V181.8" stroke="#C77CFF" stroke-width="1.8" fill="none"/>
<path d="M280.8 174.4V179.9M280.8 177.2H297.0M297.0 174.4V179.9" stroke="#C77CFF" stroke-width="1.8" fill="none"/>
<path d="M245.7 187.2V192.7M245.7 190.0H273.0M273.0 187.2V192.7" stroke="#C77CFF" stroke-width="1.8" fill="none"/>
<path d="M260.7 180.0V185.5M260.7 182.7H284.7M284.7 180.0V185.5" stroke="#C77CFF" stroke-width="1.8" fill="none"/>
<path d="M273.8 167.7V173.2M273.8 170.5H294.1M294.1 167.7V173.2" stroke="#C77CFF" stroke-width="1.8" fill="none"/>
<path d="M250.9 175.3V180.8M250.9 178.1H265.6M265.6 175.3V180.8" stroke="#F8766D" stroke-width="1.8" fill="none"/>
<path d="M285.0 179.3V184.8M285.0 182.0H311.5M311.5 179.3V184.8" stroke="#C77CFF" stroke-width="1.8" fill="none"/>
<path d="M239.0 170.0V175.5M239.0 172.8H265.4M265.4 170.0V175.5" stroke="#C77CFF" stroke-width="1.8" fill="none"/>
<path d="M235.1 186.2V191.7M235.1 189.0H251.5M251.5 186.2V191.7" stroke="#C77CFF" stroke-width="1.8" fill="none"/>
<path d="M225.5 167.0V172.5M225.5 169.7H248.7M248.7 167.0V172.5" stroke="#C77CFF" stroke-width="1.8" fill="none"/>
<path d="M254.0 162.6V168.1M254.0 165.4H268.5M268.5 162.6V168.1" stroke="#C77CFF" stroke-width="1.8" fill="none"/>
<path d="M287.7 187.8V193.3M287.7 190.5H303.5M303.5 187.8V193.3" stroke="#C77CFF" stroke-width="1.8" fill="none"/>
<path d="M280.4 181.2V186.7M280.4 184.0H299.4M299.4 181.2V186.7" stroke="#C77CFF" stroke-width="1.8" fill="none"/>
<path d="M217.1 162.6V168.1M217.1 165.4H244.5M244.5 162.6V168.1" stroke="#C77CFF" stroke-width="1.8" fill="none"/>
<path d="M251.2 182.7V188.2M251.2 185.4H275.3M275.3 182.7V188.2" stroke="#C77CFF" stroke-width="1.8" fill="none"/>
<path d="M302.5 171.1V176.6M302.5 173.9H329.4M329.4 171.1V176.6" stroke="#C77CFF" stroke-width="1.8" fill="none"/>
<path d="M298.8 171.4V176.9M298.8 174.2H315.4M315.4 171.4V176.9" stroke="#C77CFF" stroke-width="1.8" fill="none"/>
<path d="M325.2 162.9V168.4M325.2 165.6H346.6M346.6 162.9V168.4" stroke="#F8766D" stroke-width="1.8" fill="none"/>
<path d="M317.9 185.8V191.3M317.9 188.5H332.5M332.5 185.8V191.3" stroke="#C77CFF" stroke-width="1.8" fill="none"/>
<path d="M328.5 181.1V186.6M328.5 183.9H352.2M352.2 181.1V186.6" stroke="#F8766D" stroke-width="1.8" fill="none"/>
<path d="M368.4 175.6V181.1M368.4 178.4H391.3M391.3 175.6V181.1" stroke="#F8766D" stroke-width="1.8" fill="none"/>
<path d="M344.5 172.7V178.2M344.5 175.4H361.8M361.8 172.7V178.2" stroke="#C77CFF" stroke-width="1.8" fill="none"/>
<path d="M376.1 173.1V178.6M376.1 175.8H400.0M400.0 173.1V178.6" stroke="#F8766D" stroke-width="1.8" fill="none"/>
<path d="M348.4 184.6V190.1M348.4 187.3H370.2M370.2 184.6V190.1" stroke="#F8766D" stroke-width="1.8" fill="none"/>
<path d="M341.4 185.0V190.5M341.4 187.8H353.5M353.5 185.0V190.5" stroke="#F8766D" stroke-width="1.8" fill="none"/>
<path d="M345.3 166.7V172.2M345.3 169.4H369.0M369.0 166.7V172.2" stroke="#F8766D" stroke-width="1.8" fill="none"/>
<path d="M399.3 174.5V180.0M399.3 177.2H415.2M415.2 174.5V180.0" stroke="#C77CFF" stroke-width="1.8" fill="none"/>
<path d="M373.7 169.7V175.2M373.7 172.4H390.7M390.7 169.7V175.2" stroke="#F8766D" stroke-width="1.8" fill="none"/>
<path d="M365.6 183.1V188.6M365.6 185.8H378.3M378.3 183.1V188.6" stroke="#F8766D" stroke-width="1.8" fill="none"/>
<path d="M355.9 183.5V189.0M355.9 186.2H374.6M374.6 183.5V189.0" stroke="#F8766D" stroke-width="1.8" fill="none"/>
<path d="M375.4 185.2V190.7M375.4 187.9H394.4M394.4 185.2V190.7" stroke="#F8766D" stroke-width="1.8" fill="none"/>
<path d="M383.2 174.6V180.1M383.2 177.4H401.7M401.7 174.6V180.1" stroke="#F8766D" stroke-width="1.8" fill="none"/>
<path d="M369.4 165.2V170.7M369.4 168.0H388.7M388.7 165.2V170.7" stroke="#F8766D" stroke-width="1.8" fill="none"/>
<path d="M468.0 560.0V565.5M468.0 562.7H494.9M494.9 560.0V565.5" stroke="#7CAE00" stroke-width="1.8" fill="none"/>
<path d="M503.0 631.9V637.4M503.0 634.6H531.8M531.8 631.9V637.4" stroke="#7CAE00" stroke-width="1.8" fill="none"/>
<path d="M526.2 706.2V711.8M526.2 709.0H553.0M553.0 706.2V711.8" stroke="#7CAE00" stroke-width="1.8" fill="none"/>
<path d="M538.3 736.5V742.0M538.3 739.2H582.5M582.5 736.5V742.0" stroke="#7CAE00" stroke-width="1.8" fill="none"/>
<g fill="#F8766D" stroke="#000" stroke-width="1"><circle cx="475.6" cy="249.2" r="5.5"/><circle cx="405.0" cy="164.0" r="5.5"/><circle cx="318.7" cy="189.5" r="5.5"/><circle cx="415.2" cy="181.6" r="5.5"/><circle cx="477.3" cy="227.5" r="5.5"/><circle cx="466.6" cy="239.6" r="5.5"/><circle cx="468.0" cy="333.0" r="5.5"/><circle cx="496.1" cy="380.6" r="5.5"/><circle cx="223.0" cy="180.0" r="5.5"/><circle cx="352.1" cy="187.4" r="5.5"/><circle cx="365.2" cy="186.2" r="5.5"/><circle cx="409.3" cy="204.4" r="5.5"/><circle cx="430.6" cy="164.0" r="5.5"/><circle cx="236.0" cy="162.0" r="5.5"/><circle cx="541.7" cy="564.0" r="5.5"/><circle cx="218.6" cy="172.0" r="5.5"/><circle cx="347.5" cy="187.8" r="5.5"/><circle cx="343.2" cy="178.0" r="5.5"/><circle cx="550.1" cy="519.3" r="5.5"/><circle cx="371.9" cy="185.8" r="5.5"/><circle cx="388.0" cy="175.8" r="5.5"/><circle cx="486.3" cy="273.0" r="5.5"/><circle cx="422.2" cy="181.6" r="5.5"/><circle cx="378.1" cy="185.7" r="5.5"/><circle cx="403.3" cy="172.6" r="5.5"/><circle cx="413.8" cy="179.0" r="5.5"/><circle cx="355.9" cy="182.6" r="5.5"/><circle cx="386.0" cy="181.6" r="5.5"/><circle cx="330.3" cy="169.8" r="5.5"/><circle cx="289.7" cy="204.6" r="5.5"/><circle cx="430.0" cy="160.0" r="5.5"/><circle cx="277.9" cy="176.0" r="5.5"/><circle cx="511.6" cy="308.5" r="5.5"/><circle cx="509.6" cy="418.6" r="5.5"/><circle cx="534.6" cy="486.4" r="5.5"/><circle cx="399.7" cy="187.1" r="5.5"/><circle cx="401.5" cy="177.3" r="5.5"/><circle cx="233.1" cy="190.9" r="5.5"/><circle cx="115.9" cy="185.0" r="5.5"/><circle cx="418.6" cy="168.4" r="5.5"/><circle cx="413.3" cy="187.8" r="5.5"/><circle cx="346.1" cy="168.2" r="5.5"/><circle cx="368.2" cy="180.8" r="5.5"/><circle cx="419.4" cy="174.5" r="5.5"/><circle cx="340.0" cy="175.0" r="5.5"/><circle cx="521.4" cy="398.4" r="5.5"/><circle cx="299.0" cy="176.0" r="5.5"/><circle cx="514.4" cy="266.9" r="5.5"/><circle cx="150.4" cy="181.0" r="5.5"/><circle cx="337.0" cy="181.8" r="5.5"/><circle cx="298.4" cy="176.0" r="5.5"/><circle cx="426.4" cy="219.3" r="5.5"/><circle cx="362.0" cy="181.6" r="5.5"/><circle cx="393.4" cy="157.0" r="5.5"/><circle cx="525.1" cy="459.4" r="5.5"/><circle cx="500.9" cy="264.1" r="5.5"/><circle cx="180.8" cy="196.0" r="5.5"/><circle cx="368.5" cy="172.0" r="5.5"/><circle cx="226.4" cy="201.0" r="5.5"/><circle cx="341.0" cy="172.4" r="5.5"/><circle cx="500.3" cy="306.3" r="5.5"/><circle cx="460.9" cy="255.6" r="5.5"/><circle cx="513.5" cy="420.0" r="5.5"/><circle cx="333.8" cy="176.6" r="5.5"/><circle cx="391.9" cy="184.5" r="5.5"/><circle cx="357.1" cy="169.4" r="5.5"/><circle cx="258.3" cy="178.1" r="5.5"/><circle cx="359.3" cy="176.6" r="5.5"/><circle cx="389.7" cy="169.9" r="5.5"/><circle cx="249.2" cy="178.0" r="5.5"/><circle cx="298.0" cy="199.6" r="5.5"/><circle cx="190.2" cy="192.0" r="5.5"/><circle cx="473.0" cy="290.0" r="5.5"/><circle cx="364.0" cy="167.7" r="5.5"/><circle cx="335.9" cy="165.6" r="5.5"/><circle cx="379.9" cy="178.4" r="5.5"/><circle cx="249.0" cy="166.0" r="5.5"/><circle cx="399.8" cy="167.3" r="5.5"/><circle cx="419.6" cy="187.3" r="5.5"/><circle cx="280.6" cy="188.0" r="5.5"/><circle cx="359.3" cy="187.3" r="5.5"/><circle cx="146.3" cy="188.8" r="5.5"/><circle cx="529.9" cy="456.6" r="5.5"/><circle cx="208.7" cy="178.0" r="5.5"/><circle cx="392.5" cy="177.4" r="5.5"/><circle cx="379.1" cy="168.0" r="5.5"/><circle cx="162.0" cy="196.8" r="5.5"/><circle cx="270.3" cy="188.9" r="5.5"/><circle cx="340.4" cy="183.9" r="5.5"/><circle cx="560.8" cy="609.0" r="5.5"/><circle cx="384.9" cy="187.9" r="5.5"/><circle cx="141.8" cy="182.8" r="5.5"/><circle cx="387.0" cy="209.7" r="5.5"/><circle cx="209.0" cy="162.0" r="5.5"/><circle cx="382.2" cy="172.4" r="5.5"/><circle cx="222.0" cy="160.5" r="5.5"/><circle cx="541.7" cy="508.5" r="5.5"/><circle cx="408.1" cy="184.4" r="5.5"/><circle cx="621.9" cy="798.9" r="5.5"/><circle cx="455.9" cy="226.1" r="5.5"/><circle cx="348.8" cy="176.9" r="5.5"/></g>
<g fill="#C77CFF"><circle cx="244.9" cy="182.3" r="5.5"/><circle cx="200.1" cy="171.6" r="5.5"/><circle cx="272.7" cy="182.7" r="5.5"/><circle cx="288.7" cy="189.9" r="5.5"/><circle cx="243.3" cy="189.0" r="5.5"/><circle cx="151.3" cy="194.4" r="5.5"/><circle cx="250.5" cy="186.5" r="5.5"/><circle cx="259.3" cy="190.0" r="5.5"/><circle cx="311.5" cy="185.4" r="5.5"/><circle cx="188.9" cy="181.2" r="5.5"/><circle cx="264.7" cy="172.1" r="5.5"/><circle cx="177.5" cy="164.8" r="5.5"/><circle cx="373.2" cy="177.1" r="5.5"/><circle cx="232.4" cy="183.7" r="5.5"/><circle cx="171.6" cy="178.2" r="5.5"/><circle cx="175.3" cy="171.2" r="5.5"/><circle cx="288.9" cy="177.2" r="5.5"/><circle cx="217.3" cy="164.7" r="5.5"/><circle cx="304.5" cy="184.1" r="5.5"/><circle cx="227.7" cy="173.1" r="5.5"/><circle cx="164.1" cy="190.7" r="5.5"/><circle cx="268.2" cy="166.3" r="5.5"/><circle cx="244.5" cy="171.6" r="5.5"/><circle cx="319.3" cy="182.6" r="5.5"/><circle cx="271.6" cy="174.1" r="5.5"/><circle cx="325.1" cy="180.7" r="5.5"/><circle cx="152.9" cy="172.5" r="5.5"/><circle cx="207.6" cy="183.9" r="5.5"/><circle cx="290.4" cy="165.2" r="5.5"/><circle cx="222.1" cy="188.1" r="5.5"/><circle cx="313.9" cy="167.3" r="5.5"/><circle cx="195.3" cy="168.0" r="5.5"/><circle cx="252.2" cy="172.8" r="5.5"/><circle cx="239.8" cy="177.8" r="5.5"/><circle cx="353.1" cy="175.4" r="5.5"/><circle cx="237.1" cy="169.7" r="5.5"/><circle cx="295.6" cy="190.5" r="5.5"/><circle cx="228.2" cy="183.1" r="5.5"/><circle cx="324.4" cy="170.5" r="5.5"/><circle cx="167.3" cy="184.4" r="5.5"/><circle cx="279.7" cy="181.8" r="5.5"/><circle cx="325.2" cy="188.5" r="5.5"/><circle cx="230.8" cy="165.4" r="5.5"/><circle cx="307.1" cy="174.2" r="5.5"/><circle cx="208.7" cy="193.8" r="5.5"/><circle cx="211.6" cy="172.2" r="5.5"/><circle cx="225.1" cy="166.6" r="5.5"/><circle cx="161.2" cy="185.3" r="5.5"/><circle cx="197.0" cy="187.2" r="5.5"/><circle cx="172.1" cy="192.3" r="5.5"/><circle cx="261.3" cy="165.4" r="5.5"/><circle cx="274.5" cy="165.7" r="5.5"/><circle cx="215.3" cy="188.4" r="5.5"/><circle cx="173.8" cy="184.7" r="5.5"/><circle cx="297.6" cy="167.3" r="5.5"/><circle cx="182.4" cy="175.5" r="5.5"/><circle cx="233.0" cy="175.7" r="5.5"/><circle cx="149.6" cy="174.8" r="5.5"/><circle cx="182.3" cy="189.9" r="5.5"/><circle cx="264.9" cy="179.0" r="5.5"/><circle cx="298.2" cy="182.0" r="5.5"/><circle cx="200.8" cy="164.6" r="5.5"/><circle cx="202.0" cy="196.7" r="5.5"/><circle cx="195.4" cy="175.8" r="5.5"/><circle cx="155.1" cy="187.2" r="5.5"/><circle cx="156.1" cy="178.6" r="5.5"/><circle cx="407.3" cy="177.2" r="5.5"/><circle cx="137.8" cy="175.6" r="5.5"/><circle cx="175.8" cy="190.3" r="5.5"/><circle cx="316.0" cy="173.9" r="5.5"/><circle cx="206.1" cy="168.8" r="5.5"/><circle cx="289.9" cy="184.0" r="5.5"/><circle cx="139.6" cy="191.8" r="5.5"/><circle cx="185.2" cy="168.4" r="5.5"/><circle cx="222.2" cy="195.8" r="5.5"/><circle cx="166.7" cy="171.6" r="5.5"/><circle cx="161.5" cy="175.4" r="5.5"/><circle cx="188.9" cy="174.0" r="5.5"/><circle cx="263.3" cy="185.4" r="5.5"/><circle cx="133.0" cy="184.2" r="5.5"/><circle cx="214.8" cy="196.1" r="5.5"/><circle cx="178.5" cy="184.3" r="5.5"/><circle cx="228.1" cy="192.6" r="5.5"/><circle cx="283.9" cy="170.5" r="5.5"/><circle cx="173.4" cy="171.5" r="5.5"/><circle cx="143.7" cy="173.7" r="5.5"/><circle cx="412.1" cy="171.7" r="5.5"/><circle cx="199.9" cy="180.7" r="5.5"/><circle cx="447.4" cy="187.3" r="5.5"/><circle cx="448.3" cy="193.8" r="5.5"/><circle cx="440.7" cy="204.2" r="5.5"/><circle cx="465.7" cy="229.8" r="5.5"/><circle cx="488.2" cy="245.0" r="5.5"/><circle cx="119.0" cy="182.2" r="5.5"/><circle cx="122.1" cy="186.1" r="5.5"/><circle cx="123.8" cy="190.1" r="5.5"/><circle cx="124.7" cy="194.2" r="5.5"/><circle cx="225.9" cy="153.7" r="5.5"/><circle cx="294.8" cy="136.3" r="5.5"/><circle cx="307.7" cy="145.6" r="5.5"/><circle cx="322.1" cy="136.3" r="5.5"/><circle cx="282.1" cy="159.1" r="5.5"/><circle cx="185.0" cy="160.0" r="5.5"/><circle cx="347.4" cy="152.3" r="5.5"/><circle cx="352.4" cy="155.7" r="5.5"/><circle cx="357.2" cy="153.7" r="5.5"/><circle cx="373.5" cy="153.7" r="5.5"/><circle cx="374.4" cy="158.2" r="5.5"/><circle cx="400.5" cy="156.5" r="5.5"/><circle cx="406.5" cy="159.0" r="5.5"/><circle cx="384.5" cy="165.8" r="5.5"/><circle cx="376.0" cy="171.7" r="5.5"/><circle cx="396.3" cy="172.6" r="5.5"/><circle cx="398.0" cy="181.0" r="5.5"/><circle cx="350.8" cy="182.7" r="5.5"/><circle cx="353.8" cy="192.0" r="5.5"/><circle cx="339.0" cy="191.1" r="5.5"/><circle cx="382.0" cy="196.2" r="5.5"/><circle cx="421.5" cy="159.4" r="5.5"/><circle cx="426.4" cy="168.9" r="5.5"/><circle cx="384.2" cy="166.1" r="5.5"/><circle cx="396.2" cy="172.4" r="5.5"/><circle cx="382.8" cy="196.3" r="5.5"/><circle cx="419.1" cy="196.3" r="5.5"/><circle cx="440.8" cy="204.4" r="5.5"/><circle cx="447.8" cy="187.9" r="5.5"/></g>
<g fill="none" stroke="#000" stroke-width="1"><circle cx="244.9" cy="182.3" r="5.5"/><circle cx="200.1" cy="171.6" r="5.5"/><circle cx="272.7" cy="182.7" r="5.5"/><circle cx="288.7" cy="189.9" r="5.5"/><circle cx="243.3" cy="189.0" r="5.5"/><circle cx="151.3" cy="194.4" r="5.5"/><circle cx="250.5" cy="186.5" r="5.5"/><circle cx="259.3" cy="190.0" r="5.5"/><circle cx="311.5" cy="185.4" r="5.5"/><circle cx="188.9" cy="181.2" r="5.5"/><circle cx="264.7" cy="172.1" r="5.5"/><circle cx="177.5" cy="164.8" r="5.5"/><circle cx="373.2" cy="177.1" r="5.5"/><circle cx="232.4" cy="183.7" r="5.5"/><circle cx="171.6" cy="178.2" r="5.5"/><circle cx="175.3" cy="171.2" r="5.5"/><circle cx="288.9" cy="177.2" r="5.5"/><circle cx="217.3" cy="164.7" r="5.5"/><circle cx="304.5" cy="184.1" r="5.5"/><circle cx="227.7" cy="173.1" r="5.5"/><circle cx="164.1" cy="190.7" r="5.5"/><circle cx="268.2" cy="166.3" r="5.5"/><circle cx="244.5" cy="171.6" r="5.5"/><circle cx="319.3" cy="182.6" r="5.5"/><circle cx="271.6" cy="174.1" r="5.5"/><circle cx="325.1" cy="180.7" r="5.5"/><circle cx="152.9" cy="172.5" r="5.5"/><circle cx="207.6" cy="183.9" r="5.5"/><circle cx="290.4" cy="165.2" r="5.5"/><circle cx="222.1" cy="188.1" r="5.5"/><circle cx="313.9" cy="167.3" r="5.5"/><circle cx="195.3" cy="168.0" r="5.5"/><circle cx="252.2" cy="172.8" r="5.5"/><circle cx="239.8" cy="177.8" r="5.5"/><circle cx="353.1" cy="175.4" r="5.5"/><circle cx="237.1" cy="169.7" r="5.5"/><circle cx="295.6" cy="190.5" r="5.5"/><circle cx="228.2" cy="183.1" r="5.5"/><circle cx="324.4" cy="170.5" r="5.5"/><circle cx="167.3" cy="184.4" r="5.5"/><circle cx="279.7" cy="181.8" r="5.5"/><circle cx="325.2" cy="188.5" r="5.5"/><circle cx="230.8" cy="165.4" r="5.5"/><circle cx="307.1" cy="174.2" r="5.5"/><circle cx="208.7" cy="193.8" r="5.5"/><circle cx="211.6" cy="172.2" r="5.5"/><circle cx="225.1" cy="166.6" r="5.5"/><circle cx="161.2" cy="185.3" r="5.5"/><circle cx="197.0" cy="187.2" r="5.5"/><circle cx="172.1" cy="192.3" r="5.5"/><circle cx="261.3" cy="165.4" r="5.5"/><circle cx="274.5" cy="165.7" r="5.5"/><circle cx="215.3" cy="188.4" r="5.5"/><circle cx="173.8" cy="184.7" r="5.5"/><circle cx="297.6" cy="167.3" r="5.5"/><circle cx="182.4" cy="175.5" r="5.5"/><circle cx="233.0" cy="175.7" r="5.5"/><circle cx="149.6" cy="174.8" r="5.5"/><circle cx="182.3" cy="189.9" r="5.5"/><circle cx="264.9" cy="179.0" r="5.5"/><circle cx="298.2" cy="182.0" r="5.5"/><circle cx="200.8" cy="164.6" r="5.5"/><circle cx="202.0" cy="196.7" r="5.5"/><circle cx="195.4" cy="175.8" r="5.5"/><circle cx="155.1" cy="187.2" r="5.5"/><circle cx="156.1" cy="178.6" r="5.5"/><circle cx="407.3" cy="177.2" r="5.5"/><circle cx="137.8" cy="175.6" r="5.5"/><circle cx="175.8" cy="190.3" r="5.5"/><circle cx="316.0" cy="173.9" r="5.5"/><circle cx="206.1" cy="168.8" r="5.5"/><circle cx="289.9" cy="184.0" r="5.5"/><circle cx="139.6" cy="191.8" r="5.5"/><circle cx="185.2" cy="168.4" r="5.5"/><circle cx="222.2" cy="195.8" r="5.5"/><circle cx="166.7" cy="171.6" r="5.5"/><circle cx="161.5" cy="175.4" r="5.5"/><circle cx="188.9" cy="174.0" r="5.5"/><circle cx="263.3" cy="185.4" r="5.5"/><circle cx="133.0" cy="184.2" r="5.5"/><circle cx="214.8" cy="196.1" r="5.5"/><circle cx="178.5" cy="184.3" r="5.5"/><circle cx="228.1" cy="192.6" r="5.5"/><circle cx="283.9" cy="170.5" r="5.5"/><circle cx="173.4" cy="171.5" r="5.5"/><circle cx="143.7" cy="173.7" r="5.5"/><circle cx="412.1" cy="171.7" r="5.5"/><circle cx="199.9" cy="180.7" r="5.5"/><circle cx="447.4" cy="187.3" r="5.5"/><circle cx="448.3" cy="193.8" r="5.5"/><circle cx="440.7" cy="204.2" r="5.5"/><circle cx="465.7" cy="229.8" r="5.5"/><circle cx="488.2" cy="245.0" r="5.5"/><circle cx="119.0" cy="182.2" r="5.5"/><circle cx="122.1" cy="186.1" r="5.5"/><circle cx="123.8" cy="190.1" r="5.5"/><circle cx="124.7" cy="194.2" r="5.5"/><circle cx="225.9" cy="153.7" r="5.5"/><circle cx="294.8" cy="136.3" r="5.5"/><circle cx="307.7" cy="145.6" r="5.5"/><circle cx="322.1" cy="136.3" r="5.5"/><circle cx="282.1" cy="159.1" r="5.5"/><circle cx="185.0" cy="160.0" r="5.5"/><circle cx="347.4" cy="152.3" r="5.5"/><circle cx="352.4" cy="155.7" r="5.5"/><circle cx="357.2" cy="153.7" r="5.5"/><circle cx="373.5" cy="153.7" r="5.5"/><circle cx="374.4" cy="158.2" r="5.5"/><circle cx="400.5" cy="156.5" r="5.5"/><circle cx="406.5" cy="159.0" r="5.5"/><circle cx="384.5" cy="165.8" r="5.5"/><circle cx="376.0" cy="171.7" r="5.5"/><circle cx="396.3" cy="172.6" r="5.5"/><circle cx="398.0" cy="181.0" r="5.5"/><circle cx="350.8" cy="182.7" r="5.5"/><circle cx="353.8" cy="192.0" r="5.5"/><circle cx="339.0" cy="191.1" r="5.5"/><circle cx="382.0" cy="196.2" r="5.5"/><circle cx="421.5" cy="159.4" r="5.5"/><circle cx="426.4" cy="168.9" r="5.5"/><circle cx="384.2" cy="166.1" r="5.5"/><circle cx="396.2" cy="172.4" r="5.5"/><circle cx="382.8" cy="196.3" r="5.5"/><circle cx="419.1" cy="196.3" r="5.5"/><circle cx="440.8" cy="204.4" r="5.5"/><circle cx="447.8" cy="187.9" r="5.5"/></g>
<g fill="#00BFC4" stroke="#000" stroke-width="1"><circle cx="491.9" cy="359.4" r="5.5"/></g>
<g fill="#7CAE00" stroke="#000" stroke-width="1"><circle cx="481.0" cy="562.7" r="5.5"/><circle cx="518.6" cy="634.6" r="5.5"/><circle cx="538.3" cy="709.0" r="5.5"/><circle cx="560.0" cy="739.2" r="5.5"/></g>
<path d="M105.8 167.4L108.1 167.3L110.3 167.2L112.6 167.2L114.8 167.1L117.0 167.0L119.3 167.0L121.5 166.9L123.8 166.9M142.6 166.3L144.9 166.2L147.1 166.2L149.4 166.1L151.6 166.0L153.8 165.9L156.1 165.8L158.3 165.7L160.6 165.6M179.5 164.7L181.8 164.6L184.0 164.5L186.3 164.3L188.5 164.2L190.7 164.1L193.0 163.9L195.2 163.8L197.5 163.6M216.2 162.3L218.5 162.1L220.7 161.9L223.0 161.8L225.2 161.6L227.4 161.4L229.7 161.3L231.9 161.1L234.2 160.9M252.5 159.4L254.8 159.2L257.0 159.0L259.3 158.8L261.5 158.6L263.7 158.4L266.0 158.2L268.2 158.0L270.5 157.8M289.4 156.0L291.6 155.7L293.8 155.5L296.1 155.2L298.3 154.9L300.5 154.6L302.8 154.3L305.0 154.0L307.2 153.6M325.4 150.6L327.7 150.2L329.9 149.8L332.1 149.4L334.3 149.0L336.5 148.6L338.7 148.1L340.9 147.6L343.1 147.1M361.7 142.7L363.9 142.3L366.1 141.9L368.4 141.6L370.6 141.4L372.8 141.2L375.1 141.0L377.3 140.8L379.6 140.7M397.7 140.8L399.9 141.0L402.1 141.4L404.3 141.9L406.5 142.4L408.7 143.0L410.8 143.8L412.9 144.6L415.0 145.4M431.1 154.6L432.9 155.9L434.8 157.2L436.5 158.6L438.3 160.0L440.0 161.4L441.7 162.9L443.3 164.5L444.9 166.1M457.5 180.8L458.8 182.6L460.2 184.4L461.5 186.2L462.9 188.0L464.2 189.8L465.6 191.6L466.9 193.5L468.1 195.3M478.1 211.1L479.3 213.1L480.4 215.0L481.6 217.0L482.7 218.9L483.8 220.8L484.9 222.8L486.0 224.8L487.1 226.7M495.7 243.3L496.7 245.3L497.7 247.3L498.7 249.3L499.7 251.3L500.7 253.3L501.7 255.3L502.7 257.3L503.7 259.4M511.7 276.3L512.7 278.4L513.6 280.4L514.6 282.5L515.5 284.5L516.4 286.6L517.3 288.6L518.3 290.7L519.2 292.7M526.5 309.9L527.4 312.0L528.3 314.1L529.1 316.1L530.0 318.2L530.9 320.3L531.7 322.3L532.6 324.4L533.5 326.5M540.7 344.0L541.5 346.1L542.4 348.2L543.2 350.3L544.0 352.4L544.8 354.5L545.6 356.6L546.4 358.7L547.1 360.8M553.6 379.2L554.3 381.3L555.1 383.5L555.8 385.6L556.6 387.7L557.4 389.8L558.2 391.9L558.9 394.0L559.7 396.1M566.2 413.1L566.9 415.2L567.7 417.3L568.5 419.4L569.3 421.5L570.1 423.6L570.8 425.7L571.6 427.8L572.4 430.0M578.9 448.1L579.7 450.2L580.4 452.4L581.2 454.5L581.9 456.6L582.6 458.7L583.4 460.9L584.1 463.0L584.8 465.1M590.7 482.7L591.4 484.8L592.1 486.9L592.8 489.1L593.5 491.2L594.2 493.3L594.9 495.5L595.6 497.6L596.3 499.7M602.4 518.2L603.1 520.4L603.8 522.5L604.5 524.7L605.2 526.8L605.9 528.9L606.6 531.1L607.3 533.2L608.0 535.4M613.8 553.2L614.5 555.4L615.2 557.5L615.9 559.7L616.6 561.8L617.3 563.9L618.0 566.1L618.7 568.2L619.4 570.4M625.2 588.3L625.9 590.4L626.6 592.5L627.3 594.7L628.0 596.8L628.7 598.9L629.4 601.1L630.2 603.2L630.9 605.3M637.2 623.3L638.0 625.4L638.7 627.6L639.5 629.7L640.2 631.8L640.9 633.9L641.7 636.0L642.4 638.2L643.2 640.3M648.3 657.5L651.6 663.4M105.6 212.6L107.8 212.3L110.1 211.9L112.3 211.6L114.5 211.2L116.7 210.8L118.9 210.5L121.2 210.1L123.4 209.7M141.9 206.7L144.1 206.4L146.4 206.0L148.6 205.7L150.8 205.3L153.0 204.9L155.2 204.6L157.5 204.2L159.7 203.9M179.1 200.8L181.3 200.5L183.5 200.2L185.8 199.9L188.0 199.6L190.2 199.3L192.5 199.1L194.7 198.8L196.9 198.5M214.9 196.8L217.2 196.7L219.4 196.5L221.7 196.3L223.9 196.2L226.1 196.1L228.4 196.0L230.6 195.9L232.9 195.8M251.6 195.3L253.9 195.2L256.1 195.2L258.4 195.1L260.6 195.0L262.8 194.9L265.1 194.8L267.3 194.7L269.6 194.6M288.7 193.5L291.0 193.3L293.2 193.2L295.5 193.1L297.7 193.0L299.9 192.9L302.2 192.8L304.4 192.6L306.7 192.5M324.5 191.6L326.8 191.5L329.0 191.5L331.3 191.5L333.5 191.6L335.7 191.6L338.0 191.6L340.2 191.6L342.5 191.6M359.3 192.4L361.5 192.9L363.7 193.5L365.8 194.2L367.8 195.2L369.7 196.3L371.6 197.6L373.3 199.1L375.0 200.6M387.2 215.5L388.5 217.3L389.9 219.1L391.3 220.9L392.7 222.6L394.1 224.3L395.6 226.0L397.0 227.8L398.5 229.5M410.2 244.3L411.5 246.1L412.8 247.9L414.1 249.8L415.3 251.7L416.5 253.6L417.7 255.5L418.8 257.5L419.9 259.4M428.3 276.0L429.3 278.0L430.2 280.1L431.1 282.1L432.0 284.2L432.9 286.3L433.7 288.4L434.5 290.4L435.3 292.6M441.4 310.2L442.2 312.3L442.9 314.5L443.6 316.6L444.4 318.7L445.2 320.8L446.0 322.9L446.7 325.0L447.5 327.1M454.3 345.4L455.1 347.6L455.9 349.7L456.6 351.8L457.4 353.9L458.2 356.0L458.9 358.1L459.6 360.3L460.4 362.4M466.5 380.5L467.2 382.6L467.9 384.7L468.7 386.9L469.4 389.0L470.1 391.1L470.9 393.2L471.6 395.4L472.4 397.5M478.5 414.4L479.2 416.5L479.9 418.6L480.7 420.8L481.4 422.9L482.1 425.0L482.8 427.2L483.5 429.3L484.2 431.4M490.0 449.4L490.6 451.5L491.3 453.7L491.9 455.8L492.6 458.0L493.3 460.2L493.9 462.3L494.5 464.5L495.2 466.6M500.3 484.7L501.0 486.9L501.6 489.1L502.2 491.2L502.8 493.4L503.4 495.6L504.0 497.7L504.7 499.9L505.3 502.1M510.5 520.3L511.0 522.5L511.6 524.7L512.2 526.8L512.8 529.0L513.4 531.2L513.9 533.4L514.5 535.5L515.0 537.7M519.4 555.7L519.9 557.9L520.4 560.1L521.0 562.3L521.5 564.5L522.0 566.7L522.6 568.9L523.1 571.1L523.6 573.3M528.0 592.0L528.6 594.1L529.1 596.3L529.7 598.5L530.2 600.7L530.8 602.9L531.3 605.1L531.9 607.2L532.5 609.4M537.3 627.0L537.8 629.2L538.4 631.3L539.0 633.5L539.5 635.7L540.0 637.9L540.6 640.1L541.1 642.3L541.6 644.5M545.7 663.0L546.2 665.2L546.7 667.4L547.2 669.6L547.7 671.8L548.2 674.0L548.7 676.2L549.2 678.4L549.7 680.6M553.9 699.2L554.4 701.4L554.9 703.6L555.4 705.8L555.9 708.0L556.4 710.2L556.9 712.4L557.4 714.6L557.9 716.8M562.1 735.6L562.6 737.8L563.1 740.0L563.5 742.2L564.0 744.4L564.5 746.6L564.9 748.8L565.4 751.0L565.8 753.2M569.3 771.0L569.8 773.2L570.3 775.4L570.7 777.6L571.2 779.8L571.7 782.0L572.2 784.2L572.7 786.4L573.2 788.6M577.6 807.4L578.1 809.6L578.7 811.8L579.2 814.0L579.7 816.2L580.2 818.4L580.7 820.6L581.2 822.8L581.8 825.0M585.3 843.3L588.5 858.2" fill="none" stroke="#000" stroke-width="4.5"/>
<text x="531.3" y="168.3" font-size="19.6" font-weight="bold" fill="#555">+2 m reference</text>
<line x1="481.5" y1="548.8" x2="483.9" y2="268" stroke="#000" stroke-width="2"/>
<path d="M483.9 254.8 L492 274.5 L483.9 271 L475.5 274.8 Z" fill="#000"/>
<g font-size="19.6" font-weight="bold" fill="#555"><text x="259.6" y="452">Penecontemporaneous</text><text x="259.6" y="475.2">incompatible sea level</text><text x="259.6" y="497.8">determination</text></g>
<rect x="76" y="55.5" width="601" height="848.5" fill="none" stroke="#000" stroke-width="2.2"/>
<g font-size="20" font-weight="bold" fill="#4d4d4d"><text x="102.5" y="44" text-anchor="middle">0</text><text x="193.9" y="44" text-anchor="middle">2</text><text x="285.3" y="44" text-anchor="middle">4</text><text x="376.7" y="44" text-anchor="middle">6</text><text x="468.1" y="44" text-anchor="middle">8</text><text x="559.5" y="44" text-anchor="middle">10</text><text x="650.9" y="44" text-anchor="middle">12</text><text x="65.5" y="195.0" text-anchor="end">0</text><text x="65.5" y="330.7" text-anchor="end">−10</text><text x="65.5" y="466.4" text-anchor="end">−20</text><text x="65.5" y="602.1" text-anchor="end">−30</text><text x="65.5" y="737.8" text-anchor="end">−40</text><text x="65.5" y="873.5" text-anchor="end">−50</text></g>
<text x="381.6" y="19.5" text-anchor="middle" font-size="23.8" font-weight="bold" fill="#000">Age (cal kyr BP)</text>
<text transform="translate(20.6,464.8) rotate(-90)" text-anchor="middle" font-size="23.8" font-weight="bold" fill="#000">Observed relative sea level (m)</text>
<line x1="24.8" y1="929.4" x2="55.2" y2="929.4" stroke="#F8766D" stroke-width="1.5"/><circle cx="40" cy="929.4" r="5.4" fill="#F8766D" stroke="#000" stroke-width="1"/><line x1="24.8" y1="962.1" x2="55.2" y2="962.1" stroke="#00BFC4" stroke-width="1.5"/><circle cx="40" cy="962.1" r="5.4" fill="#00BFC4" stroke="#000" stroke-width="1"/><line x1="410.0" y1="929.6" x2="440.4" y2="929.6" stroke="#C77CFF" stroke-width="1.5"/><circle cx="425.2" cy="929.6" r="5.4" fill="#C77CFF" stroke="#000" stroke-width="1"/><line x1="410.0" y1="963.3" x2="440.4" y2="963.3" stroke="#7CAE00" stroke-width="1.5"/><circle cx="425.2" cy="963.3" r="5.4" fill="#7CAE00" stroke="#000" stroke-width="1"/><line x1="425" y1="987.6" x2="425" y2="1013.5" stroke="#000" stroke-width="5" stroke-dasharray="8.6 8.8"/>
<g font-size="19.6" fill="#000">
<text x="70.8" y="936.1" font-size="19.4">Australia-wide data (excluding SA)<tspan font-size="11" dy="-7.5">17</tspan></text>
<text x="70" y="969.3" font-size="19.5">RSL indicated by transition from fluvial</text>
<text x="70" y="992" font-size="19.5">to estuarine central basin conditions</text>
<text x="70" y="1015" font-size="19.5">(Monteith-A)<tspan font-size="11" dy="-7.5">3</tspan></text>
<text x="455.5" y="936.6">South Australia data<tspan font-size="11" dy="-7.5">17</tspan></text>
<text x="455.5" y="970.3">Gulf St. Vincent data<tspan font-size="11" dy="-7.5">16</tspan></text>
<text x="455.5" y="997.8">95% prediction band for</text>
<text x="455.5" y="1020.7">Lambeck et al.’s<tspan font-size="11" dy="-7.5">17</tspan><tspan dy="7.5"> global data</tspan></text>
</g>
</svg>
</body></html>
